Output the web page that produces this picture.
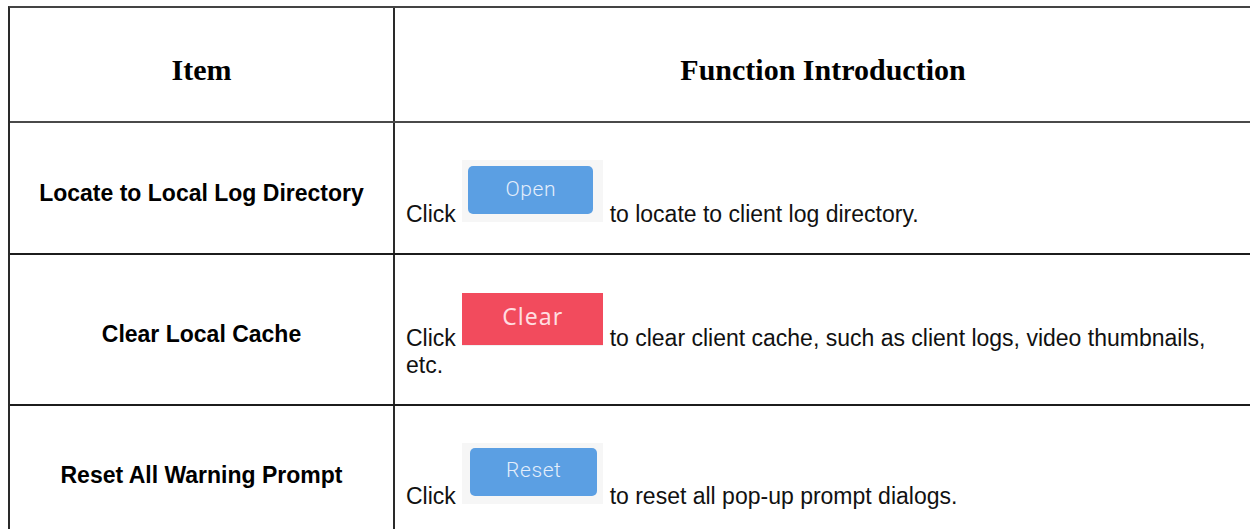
<!DOCTYPE html>
<html>
<head>
<meta charset="utf-8">
<script src="https://cdn.jsdelivr.net/npm/chart.js@4.4.1/dist/chart.umd.min.js"></script>
<style>
*{box-sizing:border-box;margin:0;padding:0}
html,body{width:1250px;height:529px;overflow:hidden;background:#fff}
#tbl{position:absolute;left:8px;top:6px;width:1244px;border-left:2px solid #2a2a2a;border-top:2px solid #444}
.row{display:flex;border-bottom:2px solid #1c1c1c}
.row.head{border-bottom-color:#4a4a4a}
.c1{width:385px;border-right:2px solid #2a2a2a;display:flex;align-items:center;justify-content:center;text-align:center;color:#000}
.c2{flex:1;display:flex;align-items:center;padding-left:11px;padding-right:12px;color:#111}
.head .c1,.head .c2{font-family:"Liberation Serif","Times New Roman",serif;font-weight:bold;font-size:30px;padding-top:11px;justify-content:center;color:#000}
.body .c1{font-family:"Liberation Sans",Arial,sans-serif;font-weight:bold;font-size:23px;padding-top:10px}
.body .c2{font-family:"Liberation Sans",Arial,sans-serif;font-size:23px;padding-top:12px}
.btn{display:inline-block;position:relative;width:141px;vertical-align:baseline}
.inner{position:absolute;display:flex;align-items:center;justify-content:center}
.lbl{display:block}
</style>
</head>
<body>
<div id="tbl"></div>
<script>
// ---- data ----
const headers = ["Item", "Function Introduction"];
const items = ["Locate to Local Log Directory", "Clear Local Cache", "Reset All Warning Prompt"];
const beforeText = ["Click", "Click", "Click"];
const buttonLabels = ["Open", "Clear", "Reset"];
const afterText = [
  "to locate to client log directory.",
  "to clear client cache, such as client logs, video thumbnails, etc.",
  "to reset all pop-up prompt dialogs."
];

// ---- layout / style (not data) ----
const headHeight = 115;
const rowHeights = [132, 151, 130];
const btnStyles = [
  {outerH:62, outerBg:"#f6f6f6", l:6, t:6, w:125, h:48, bg:"#5b9fe3", r:5, color:"#e4eefb", font:'300 21px "Roboto","DejaVu Sans",sans-serif', ls:"0.6px", dy:-1},
  {outerH:53, outerBg:"#f0f0f0", l:0, t:0, w:141, h:52, bg:"#f24b5d", r:0, color:"#ffdde0", font:'400 23px "Noto Sans","DejaVu Sans",sans-serif', ls:"1px", dy:-2},
  {outerH:61, outerBg:"#f6f6f6", l:8, t:5, w:127, h:48, bg:"#5b9fe3", r:5, color:"#e4eefb", font:'300 21px "Roboto","DejaVu Sans",sans-serif', ls:"0.6px", dy:-1}
];

const tbl = document.getElementById('tbl');
const head = document.createElement('div');
head.className = 'row head';
head.style.height = headHeight + 'px';
head.innerHTML = '<div class="c1"></div><div class="c2"></div>';
head.children[0].textContent = headers[0];
head.children[1].textContent = headers[1];
tbl.appendChild(head);

const wordGroups = [];
items.forEach((it, i) => {
  const row = document.createElement('div');
  row.className = 'row body';
  row.style.height = rowHeights[i] + 'px';
  const c1 = document.createElement('div');
  c1.className = 'c1';
  c1.textContent = it;
  const c2 = document.createElement('div');
  c2.className = 'c2';
  const wrap = document.createElement('div');
  const pre = document.createElement('span');
  pre.textContent = beforeText[i];
  wrap.appendChild(pre);
  wrap.appendChild(document.createTextNode(' '));
  const s = btnStyles[i];
  const btn = document.createElement('span');
  btn.className = 'btn';
  btn.style.height = s.outerH + 'px';
  btn.style.background = s.outerBg;
  const inner = document.createElement('span');
  inner.className = 'inner';
  Object.assign(inner.style, {
    left: s.l + 'px', top: s.t + 'px', width: s.w + 'px', height: s.h + 'px',
    background: s.bg, borderRadius: s.r + 'px', paddingBottom: (-s.dy * 2) + 'px'
  });
  const lbl = document.createElement('span');
  lbl.className = 'lbl';
  Object.assign(lbl.style, {color: s.color, font: s.font, letterSpacing: s.ls, lineHeight: '0.8'});
  lbl.textContent = buttonLabels[i];
  inner.appendChild(lbl);
  btn.appendChild(inner);
  wrap.appendChild(btn);
  // words laid out individually, then regrouped per visual line
  const spans = [];
  afterText[i].split(' ').forEach(w => {
    wrap.appendChild(document.createTextNode(' '));
    const sp = document.createElement('span');
    sp.textContent = w;
    wrap.appendChild(sp);
    spans.push(sp);
  });
  wordGroups.push({wrap, spans});
  c2.appendChild(wrap);
  row.appendChild(c1);
  row.appendChild(c2);
  tbl.appendChild(row);
});

// regroup words into one span per rendered line (avoids multi-line text boxes)
wordGroups.forEach(({wrap, spans}) => {
  const lines = [];
  let lastTop = null;
  spans.forEach(sp => {
    const top = Math.round(sp.getBoundingClientRect().top);
    if (lastTop === null || Math.abs(top - lastTop) > 3) { lines.push([]); lastTop = top; }
    lines[lines.length - 1].push(sp);
  });
  lines.forEach(line => {
    const merged = document.createElement('span');
    merged.textContent = line.map(sp => sp.textContent).join(' ');
    wrap.insertBefore(merged, line[0]);
    line.forEach((sp, k) => {
      const next = sp.nextSibling;
      if (k < line.length - 1 && next && next.nodeType === 3) wrap.removeChild(next);
      wrap.removeChild(sp);
    });
  });
});
</script>
</body>
</html>
